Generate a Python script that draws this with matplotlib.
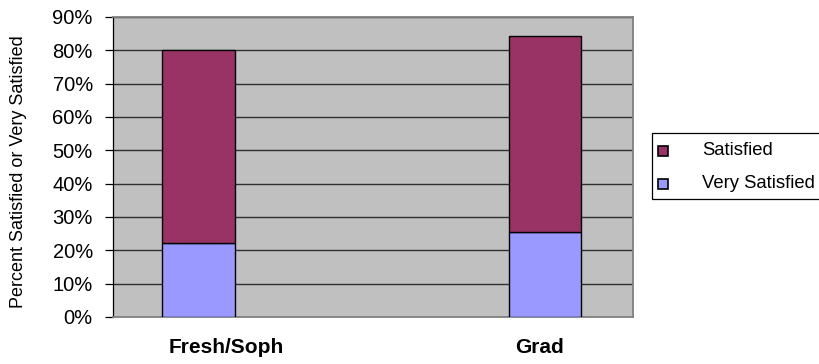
import numpy as np
import matplotlib.pyplot as plt
from matplotlib.patches import Rectangle

plt.rcParams['font.family'] = ['Liberation Sans', 'DejaVu Sans']

groups = ['Fresh/Soph', 'Grad']
very_satisfied = [22.3, 25.4]
satisfied = [57.7, 58.9]
series_names = ['Satisfied', 'Very Satisfied']
series_colors = ['#993366', '#9999FF']
y_ticks = list(range(0, 100, 10))

W, H = 820, 364


def fx(px):
    return px / W


def fy(py):
    return 1 - py / H


fig = plt.figure(figsize=(W / 100, H / 100), dpi=100)
ax = fig.add_axes([fx(113), fy(317), 520 / W, 300 / H])
ax.set_facecolor('#C0C0C0')

x = np.arange(len(groups))
width = 0.208
ax.bar(x, very_satisfied, width, color=series_colors[1], edgecolor='black', linewidth=1, zorder=3)
ax.bar(x, satisfied, width, bottom=very_satisfied, color=series_colors[0],
       edgecolor='black', linewidth=1, zorder=3)

ax.set_ylim(0, 90)
ax.set_xlim(-0.2468, 1.254)
ax.set_yticks(y_ticks)
ax.set_yticklabels([f'{t}%' for t in y_ticks], fontsize=14.5)
ax.yaxis.grid(True, color='#303030', linewidth=1.0, zorder=1)
ax.set_axisbelow(True)
ax.tick_params(axis='y', direction='out', length=6, width=0.9, pad=8.5)

# category labels sit a little off the bar centres
ax.set_xticks([0.08, 0.985])
ax.set_xticklabels(groups, fontsize=15, fontweight='bold')
ax.tick_params(axis='x', length=0, pad=15)

for side in ['top', 'right', 'bottom']:
    ax.spines[side].set_color('#808080')
    ax.spines[side].set_linewidth(1.3)
ax.spines['left'].set_color('black')
ax.spines['left'].set_linewidth(0.9)

fig.text(fx(19), fy(172), 'Percent Satisfied or Very Satisfied', rotation=90,
         ha='center', va='center', fontsize=13)

# legend box, running off the right edge
fig.add_artist(Rectangle((fx(652), fy(199)), fx(830) - fx(652), fy(133) - fy(199),
                         transform=fig.transFigure, facecolor='white',
                         edgecolor='black', linewidth=0.9))
for name, color, row_y in zip(series_names, series_colors, [150.5, 184]):
    fig.add_artist(Rectangle((fx(658), fy(row_y + 5)), 10 / W, 10 / H,
                             transform=fig.transFigure, facecolor=color,
                             edgecolor='black', linewidth=1.2))
    fig.text(fx(702), fy(row_y), name, ha='left', va='center', fontsize=13.3)

fig.savefig('out.png', dpi=100)
